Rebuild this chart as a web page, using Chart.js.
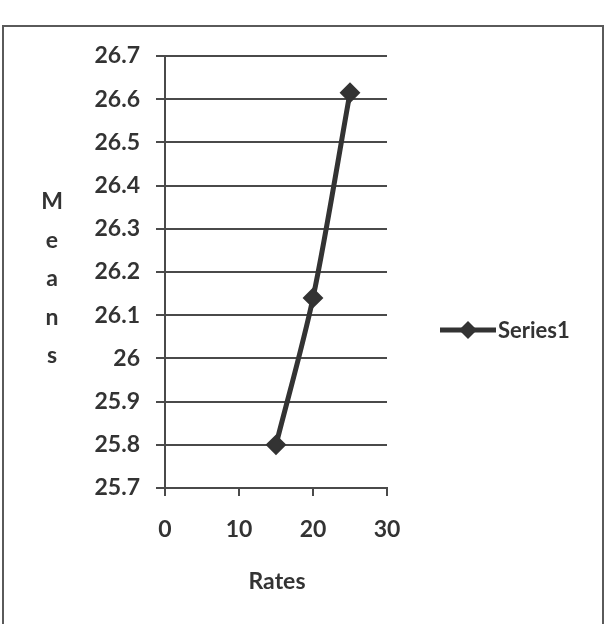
<!DOCTYPE html>
<html>
<head>
<meta charset="utf-8">
<script src="https://cdn.jsdelivr.net/npm/chart.js@4/dist/chart.umd.min.js"></script>
<style>
  html, body { margin: 0; padding: 0; background: #fff; }
  #frame {
    position: absolute; left: 2px; top: 25px;
    width: 598px; height: 620px;
    border: 2px solid #5a5a5a;
  }
  #wrap { position: absolute; left: 0; top: 0; width: 606px; height: 624px; }
</style>
</head>
<body>
<div id="frame"></div>
<div id="wrap"><canvas id="meansChart" width="606" height="624"></canvas></div>
<script>
// Series1: mean value for each rate
const rates = [15, 20, 25];
const means = [25.8, 26.14, 26.615];

// axis settings
const xTicks = [0, 10, 20, 30];
const yMin = 25.7;
const yMax = 26.7;
const yStep = 0.1;

const yTitleLetters = ["M", "e", "a", "n", "s"];
const xTitle = "Rates";
const seriesName = "Series1";

const ink = "#333333";
const gridInk = "#4a4a4a";
const font = "Lato, 'Open Sans', sans-serif";

// titles + legend drawn by hand, Excel style
const decorPlugin = {
  id: "decor",
  afterDraw(chart) {
    const { ctx, chartArea } = chart;
    ctx.save();
    ctx.fillStyle = ink;
    ctx.font = "bold 23px " + font;
    ctx.textAlign = "center";
    ctx.textBaseline = "middle";

    // stacked y title
    const midY = (chartArea.top + chartArea.bottom) / 2;
    yTitleLetters.forEach((ch, i) => {
      ctx.fillText(ch, 52, midY - 70 + i * 38.5);
    });

    // x title
    ctx.fillText(xTitle, (chartArea.left + chartArea.right) / 2 + 1, 582);

    // legend: line with diamond marker + label
    const ly = 330;
    ctx.strokeStyle = ink;
    ctx.lineWidth = 5;
    ctx.beginPath();
    ctx.moveTo(440, ly);
    ctx.lineTo(496, ly);
    ctx.stroke();
    ctx.beginPath();
    ctx.moveTo(468, ly - 9);
    ctx.lineTo(477, ly);
    ctx.lineTo(468, ly + 9);
    ctx.lineTo(459, ly);
    ctx.closePath();
    ctx.fill();
    ctx.font = "bold 22px " + font;
    ctx.textAlign = "left";
    ctx.fillText(seriesName, 498, ly + 1);
    ctx.restore();
  }
};

const canvas = document.getElementById("meansChart");
new Chart(canvas.getContext("2d"), {
  type: "line",
  data: {
    datasets: [
      {
        label: seriesName,
        data: rates.map((r, i) => ({ x: r, y: means[i] })),
        borderColor: ink,
        backgroundColor: ink,
        borderWidth: 5,
        tension: 0.3,
        pointStyle: "rectRot",
        pointRadius: 9,
        pointBorderWidth: 2,
        pointBackgroundColor: ink,
        pointBorderColor: ink,
      },
    ],
  },
  options: {
    responsive: false,
    animation: false,
    layout: { padding: { left: 0, right: 219, top: 56, bottom: 0 } },
    plugins: {
      legend: { display: false },
      tooltip: { enabled: false },
    },
    scales: {
      x: {
        type: "linear",
        min: xTicks[0],
        max: xTicks[xTicks.length - 1],
        afterBuildTicks: (axis) => {
          axis.ticks = xTicks.map((v) => ({ value: v }));
        },
        afterFit: (axis) => {
          axis.height = 136;
        },
        grid: {
          drawOnChartArea: false,
          drawTicks: true,
          tickLength: 8,
          color: gridInk,
          lineWidth: 2,
        },
        border: { display: true, color: gridInk, width: 2 },
        ticks: {
          color: ink,
          padding: 20,
          maxRotation: 0,
          font: { family: font, size: 23, weight: "bold" },
        },
      },
      y: {
        min: yMin,
        max: yMax,
        afterBuildTicks: (axis) => {
          const out = [];
          for (let i = 0; i <= Math.round((yMax - yMin) / yStep); i++) {
            out.push({ value: +(yMin + i * yStep).toFixed(1) });
          }
          axis.ticks = out;
        },
        afterFit: (axis) => {
          axis.width = 165;
        },
        grid: {
          color: gridInk,
          lineWidth: 2,
          drawTicks: true,
          tickLength: 9,
        },
        border: { display: true, color: gridInk, width: 2 },
        ticks: {
          color: ink,
          padding: 16,
          font: { family: font, size: 23, weight: "bold" },
          callback: (v) => String(+v.toFixed(1)),
        },
      },
    },
  },
  plugins: [decorPlugin],
});
</script>
</body>
</html>
